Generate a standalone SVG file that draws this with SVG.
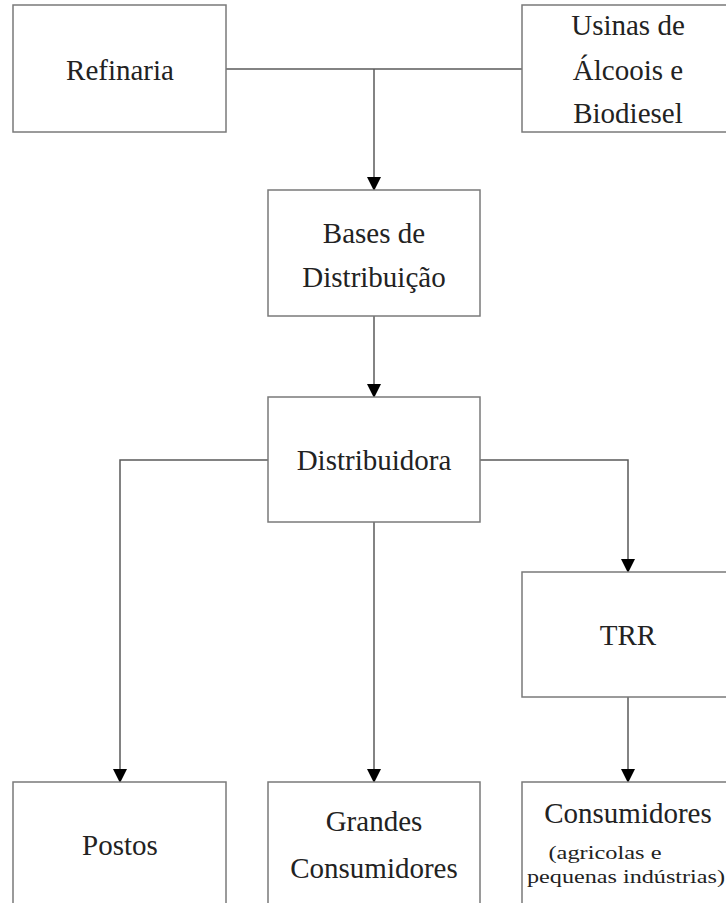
<svg xmlns="http://www.w3.org/2000/svg" width="726" height="903" viewBox="0 0 726 903">
<style>
.box{fill:#fff;stroke:#7a7a7a;stroke-width:1.5}
.t{font-family:"Liberation Serif","Times New Roman",serif;font-size:29px;fill:#222;text-anchor:middle}
.s{font-family:"Liberation Serif","Times New Roman",serif;font-size:18px;fill:#222;text-anchor:middle}
.ln{fill:none;stroke:#5a5a5a;stroke-width:1.5}
</style>
<defs>
<marker id="ah" markerUnits="userSpaceOnUse" markerWidth="14" markerHeight="16" refX="13" refY="7" orient="auto" viewBox="0 0 14 14">
<path d="M0,0 L14,7 L0,14 Z" fill="#000"/>
</marker>
</defs>
<rect width="726" height="903" fill="#fff"/>
<g id="connectors">
<path class="ln" d="M226,69 H522"/>
<path class="ln" d="M374,69 V190" marker-end="url(#ah)"/>
<path class="ln" d="M374,316 V397" marker-end="url(#ah)"/>
<path class="ln" d="M268,460 H120 V782" marker-end="url(#ah)"/>
<path class="ln" d="M374,522 V782" marker-end="url(#ah)"/>
<path class="ln" d="M480,460 H628 V572" marker-end="url(#ah)"/>
<path class="ln" d="M628,697 V782" marker-end="url(#ah)"/>
</g>
<g id="refinaria">
<rect class="box" x="13" y="5" width="213" height="127"/>
<text class="t" x="120" y="80">Refinaria</text>
</g>
<g id="usinas">
<rect class="box" x="522" y="5" width="212" height="127"/>
<text class="t" x="628" y="35">Usinas de</text>
<text class="t" x="628" y="80">Álcoois e</text>
<text class="t" x="628" y="123">Biodiesel</text>
</g>
<g id="bases">
<rect class="box" x="268" y="190" width="212" height="126"/>
<text class="t" x="374" y="243">Bases de</text>
<text class="t" x="374" y="287">Distribuição</text>
</g>
<g id="distribuidora">
<rect class="box" x="268" y="397" width="212" height="125"/>
<text class="t" x="374" y="470">Distribuidora</text>
</g>
<g id="trr">
<rect class="box" x="522" y="572" width="212" height="125"/>
<text class="t" x="628" y="645">TRR</text>
</g>
<g id="postos">
<rect class="box" x="13" y="782" width="213" height="130"/>
<text class="t" x="120" y="855">Postos</text>
</g>
<g id="grandes">
<rect class="box" x="268" y="782" width="212" height="130"/>
<text class="t" x="374" y="831">Grandes</text>
<text class="t" x="374" y="878">Consumidores</text>
</g>
<g id="consumidores">
<rect class="box" x="522" y="782" width="212" height="130"/>
<text class="t" x="628" y="823">Consumidores</text>
<text class="s" x="605" y="859" textLength="113" lengthAdjust="spacingAndGlyphs">(agricolas e</text>
<text class="s" x="626" y="883" textLength="198" lengthAdjust="spacingAndGlyphs">pequenas indústrias)</text>
</g>
</svg>
